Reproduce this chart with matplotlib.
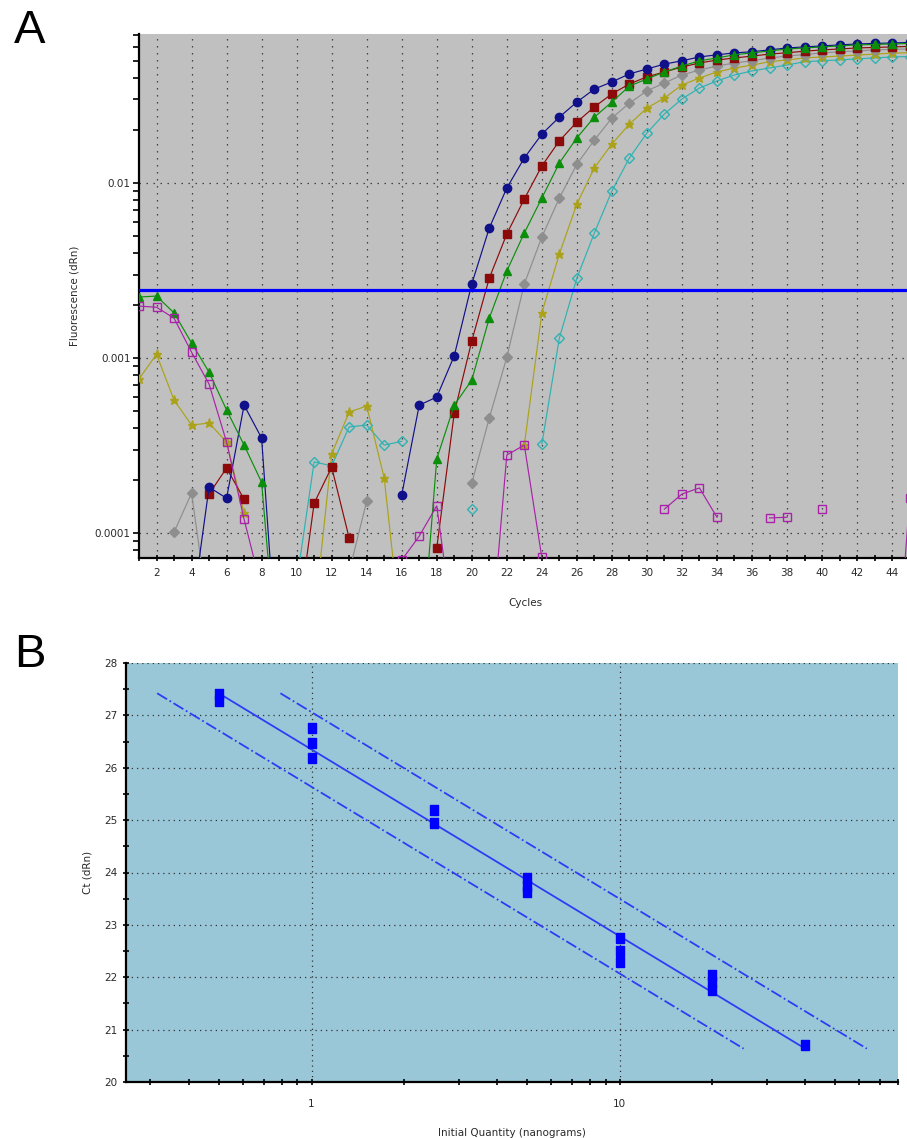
import numpy as np
import matplotlib
matplotlib.use("Agg")
import matplotlib.pyplot as plt
from matplotlib.ticker import FixedLocator, NullFormatter, LogLocator

nan = np.nan

# ---- panel A: amplification plot, dRn per cycle (nan = no positive reading) ----
cycles = np.arange(1, 46)

std_1 = [
    nan, nan, nan, 3.4e-5, 1.83e-4, 1.58e-4, 5.38e-4, 3.49e-4, 1.3e-5, nan,
    nan, nan, nan, nan, nan, 1.65e-4, 5.38e-4, 5.98e-4, 1.03e-3, 2.65e-3,
    5.53e-3, 9.36e-3, 1.39e-2, 1.90e-2, 2.38e-2, 2.90e-2, 3.44e-2, 3.78e-2, 4.20e-2, 4.48e-2,
    4.78e-2, 4.99e-2, 5.25e-2, 5.40e-2, 5.54e-2, 5.62e-2, 5.76e-2, 5.91e-2, 5.99e-2, 6.07e-2,
    6.15e-2, 6.23e-2, 6.27e-2, 6.31e-2, 6.35e-2]
std_2 = [
    nan, nan, nan, nan, 1.67e-4, 2.35e-4, 1.56e-4, nan, nan, 2.75e-5,
    1.48e-4, 2.38e-4, 9.36e-5, nan, nan, nan, nan, 8.2e-5, 4.85e-4, 1.25e-3,
    2.86e-3, 5.11e-3, 8.1e-3, 1.25e-2, 1.74e-2, 2.23e-2, 2.72e-2, 3.23e-2, 3.68e-2, 4.04e-2,
    4.31e-2, 4.60e-2, 4.85e-2, 5.04e-2, 5.18e-2, 5.31e-2, 5.45e-2, 5.55e-2, 5.66e-2, 5.76e-2,
    5.83e-2, 5.91e-2, 5.95e-2, 5.99e-2, 6.03e-2]
std_3 = [
    2.23e-3, 2.26e-3, 1.81e-3, 1.22e-3, 8.3e-4, 5.05e-4, 3.18e-4, 1.95e-4, 1.3e-5, nan,
    nan, nan, nan, nan, nan, nan, 1.47e-5, 2.65e-4, 5.38e-4, 7.48e-4,
    1.69e-3, 3.14e-3, 5.18e-3, 8.2e-3, 1.30e-2, 1.81e-2, 2.38e-2, 2.90e-2, 3.58e-2, 3.93e-2,
    4.31e-2, 4.66e-2, 4.99e-2, 5.18e-2, 5.40e-2, 5.54e-2, 5.68e-2, 5.83e-2, 5.91e-2, 5.99e-2,
    6.07e-2, 6.15e-2, 6.19e-2, 6.23e-2, 6.27e-2]
std_4 = [
    nan, nan, 1.01e-4, 1.69e-4, 3.27e-5, nan, nan, nan, nan, nan,
    nan, nan, 6.0e-5, 1.52e-4, nan, nan, nan, nan, nan, 1.93e-4,
    4.54e-4, 1.01e-3, 2.65e-3, 4.91e-3, 8.2e-3, 1.28e-2, 1.76e-2, 2.35e-2, 2.86e-2, 3.36e-2,
    3.73e-2, 4.14e-2, 4.42e-2, 4.66e-2, 4.85e-2, 4.99e-2, 5.18e-2, 5.31e-2, 5.42e-2, 5.54e-2,
    5.62e-2, 5.68e-2, 5.76e-2, 5.80e-2, 5.83e-2]
std_5 = [
    7.59e-4, 1.05e-3, 5.75e-4, 4.14e-4, 4.25e-4, 3.31e-4, 1.30e-4, nan, nan, nan,
    3.23e-5, 2.83e-4, 4.91e-4, 5.32e-4, 2.06e-4, 2.5e-5, nan, nan, nan, nan,
    nan, nan, 3.18e-4, 1.81e-3, 3.93e-3, 7.59e-3, 1.22e-2, 1.67e-2, 2.17e-2, 2.68e-2,
    3.06e-2, 3.63e-2, 3.98e-2, 4.31e-2, 4.54e-2, 4.72e-2, 4.93e-2, 5.05e-2, 5.18e-2, 5.25e-2,
    5.31e-2, 5.38e-2, 5.45e-2, 5.52e-2, 5.55e-2]
std_6 = [
    nan, nan, nan, nan, nan, nan, nan, nan, nan, 5.25e-5,
    2.55e-4, 2.42e-4, 4.04e-4, 4.14e-4, 3.18e-4, 3.34e-4, nan, nan, nan, 1.37e-4,
    nan, nan, nan, 3.22e-4, 1.30e-3, 2.86e-3, 5.18e-3, 9.0e-3, 1.39e-2, 1.93e-2,
    2.48e-2, 3.02e-2, 3.49e-2, 3.83e-2, 4.14e-2, 4.37e-2, 4.54e-2, 4.72e-2, 4.93e-2, 4.99e-2,
    5.05e-2, 5.12e-2, 5.18e-2, 5.25e-2, 5.28e-2]
ntc = [
    1.98e-3, 1.95e-3, 1.69e-3, 1.08e-3, 7.10e-4, 3.31e-4, 1.20e-4, 4.8e-5, nan, nan,
    nan, nan, nan, nan, nan, 7.0e-5, 9.6e-5, 1.43e-4, 2.6e-5, nan,
    1.86e-5, 2.79e-4, 3.18e-4, 7.25e-5, nan, nan, nan, nan, nan, nan,
    1.37e-4, 1.67e-4, 1.81e-4, 1.23e-4, nan, nan, 1.22e-4, 1.23e-4, nan, 1.37e-4,
    nan, nan, nan, 7e-6, 1.58e-4]

threshold = 0.00245

# ---- panel B: standard curve ----
quantity = [0.5, 0.5, 1, 1, 1, 2.5, 2.5, 5, 5, 5, 10, 10, 10, 20, 20, 20, 40]
ct = [27.40, 27.27, 26.75, 26.47, 26.18, 25.20, 24.95, 23.90, 23.75, 23.62,
      22.75, 22.50, 22.30, 22.05, 21.90, 21.75, 20.70]

fig = plt.figure(figsize=(9.07, 11.38), dpi=100)
fig.patch.set_facecolor("white")
txt = "#2a2a2a"

# ================= A =================
ax = fig.add_axes([139 / 907, 1 - 558 / 1138, 768 / 907, 524 / 1138])
ax.set_facecolor("#c0c0c0")
ax.set_yscale("log")
ax.set_xlim(1, 44.85)
ax.set_ylim(7.2e-5, 0.071)

for v in range(2, 45, 2):
    ax.axvline(v, color="#333333", lw=0.9, ls=(0, (1.1, 4.5)), zorder=1)
for v in [1e-4, 1e-3, 1e-2]:
    ax.axhline(v, color="#333333", lw=0.9, ls=(0, (1.1, 4.5)), zorder=1)

series = [
    (std_6, "#2fb2b2", "D", "none", 4.6),
    (std_5, "#aba21a", "*", "#aba21a", 6.8),
    (std_4, "#8e8e8e", "D", "#8e8e8e", 5.0),
    (std_2, "#8c0a0a", "s", "#8c0a0a", 5.6),
    (std_1, "#10108a", "o", "#10108a", 6.0),
    (std_3, "#0b8f0b", "^", "#0b8f0b", 6.0),
    (ntc, "#a823a8", "s", "none", 6.0),
]
for vals, col, mk, face, ms in series:
    ax.plot(cycles, vals, color=col, lw=0.85, marker=mk, ms=ms,
            mfc=face, mec=col, mew=1.0, zorder=3)

ax.axhline(threshold, color="#0000ff", lw=2.3, zorder=4)

for side in ["top", "right"]:
    ax.spines[side].set_visible(False)
ax.spines["left"].set_linewidth(1.6)
ax.spines["bottom"].set_linewidth(1.6)

ax.xaxis.set_major_locator(FixedLocator(range(2, 45, 2)))
ax.xaxis.set_minor_locator(FixedLocator(range(1, 46)))
ax.set_yticks([1e-4, 1e-3, 1e-2])
ax.set_yticklabels(["0.0001", "0.001", "0.01"])
ax.yaxis.set_minor_locator(LogLocator(base=10, subs=np.arange(2, 10)))
ax.yaxis.set_minor_formatter(NullFormatter())
ax.tick_params(axis="x", which="both", direction="inout", length=5, width=1.2,
               labelsize=7.5, labelcolor=txt, pad=5)
ax.tick_params(axis="y", which="both", direction="out", length=4, width=1.2,
               labelsize=7.5, labelcolor=txt, pad=2)

ax.set_ylabel("Fluorescence (dRn)", fontsize=7.5, color=txt)
ax.yaxis.set_label_coords(-0.077, 0.5)
ax.set_xlabel("Cycles", fontsize=7.5, color=txt)
ax.xaxis.set_label_coords(0.503, -0.076)

fig.text(30 / 907, 1 - 31 / 1138, "A", fontsize=34, family="Liberation Sans",
         ha="center", va="center")

# ================= B =================
bx = fig.add_axes([126 / 907, 1 - 1082 / 1138, 772 / 907, 419 / 1138])
bx.set_facecolor("#9ac7d7")
bx.set_xscale("log")
bx.set_xlim(0.25, 80)
bx.set_ylim(20, 28)

for v in range(21, 29):
    bx.axhline(v, color="#333333", lw=0.9, ls=(0, (1.0, 3.2)), zorder=1)
for v in [1, 10]:
    bx.axvline(v, color="#333333", lw=0.9, ls=(0, (1.0, 3.2)), zorder=1)

# linear fit of Ct against log quantity, with the +/- bands shifted along x
logq = np.log10(quantity)
slope, icpt = np.polyfit(logq, ct, 1)
band_shift = 0.2
lx = np.linspace(logq.min(), logq.max(), 50)
bx.plot(10 ** lx, icpt + slope * lx, color="#2f3cf5", lw=1.3, zorder=2)
for s in (band_shift, -band_shift):
    bx.plot(10 ** (lx + s), icpt + slope * lx, color="#2f3cf5", lw=1.3,
            ls="-.", zorder=2)

rect = [(-0.8, -1), (0.8, -1), (0.8, 1), (-0.8, 1), (-0.8, -1)]
bx.plot(quantity, ct, ls="none", marker=rect, ms=7.5, color="#0000ff",
        mec="#0000ff", zorder=3)

for side in ["top", "right"]:
    bx.spines[side].set_visible(False)
bx.spines["left"].set_linewidth(1.6)
bx.spines["bottom"].set_linewidth(1.6)

bx.set_xticks([1, 10])
bx.set_xticklabels(["1", "10"])
bx.xaxis.set_minor_locator(LogLocator(base=10, subs=np.arange(2, 10)))
bx.xaxis.set_minor_formatter(NullFormatter())
bx.set_yticks(range(20, 29))
bx.yaxis.set_minor_locator(FixedLocator(np.arange(20.5, 28, 1)))
bx.tick_params(axis="both", which="both", direction="inout", length=5, width=1.2,
               labelsize=7.5, labelcolor=txt)
bx.tick_params(axis="x", pad=10)

bx.set_ylabel("Ct (dRn)", fontsize=7.5, color=txt)
bx.yaxis.set_label_coords(-0.044, 0.5)
bx.set_xlabel("Initial Quantity (nanograms)", fontsize=7.5, color=txt)
bx.xaxis.set_label_coords(0.5, -0.11)

fig.text(30 / 907, 1 - 655 / 1138, "B", fontsize=34, family="Liberation Sans",
         ha="center", va="center")

fig.savefig("out.png", dpi=100)
